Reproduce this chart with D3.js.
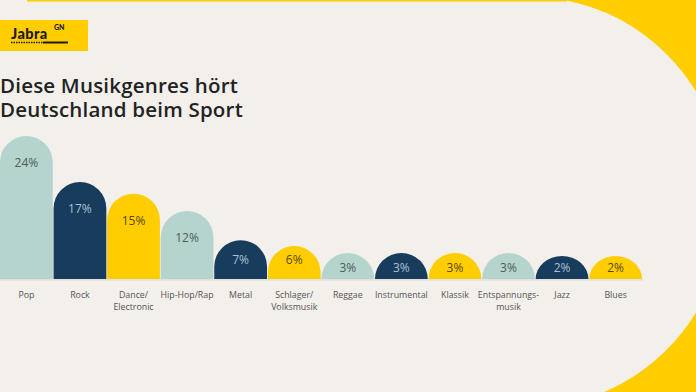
<!DOCTYPE html>
<html><head><meta charset="utf-8">
<script src="https://cdn.jsdelivr.net/npm/d3@7"></script>
<style>html,body{margin:0;padding:0;background:#f3efeb;}svg{display:block;}</style>
</head><body>
<svg id="c" width="696" height="392"></svg>
<script>
const categories = ["Pop","Rock","Dance/\nElectronic","Hip-Hop/Rap","Metal","Schlager/\nVolksmusik","Reggae","Instrumental","Klassik","Entspannungs-\nmusik","Jazz","Blues"];
const values = [24,17,15,12,7,6,3,3,3,3,2,2];
const valueLabels = ["24%","17%","15%","12%","7%","6%","3%","3%","3%","3%","2%","2%"];
const colorGroup = ["teal","navy","yellow","teal","navy","yellow","teal","navy","yellow","teal","navy","yellow"];
const titleLines = ["Diese Musikgenres hört","Deutschland beim Sport"];

const W = 696, H = 392;
const CREAM = "#f3efeb", YELLOW = "#ffcd00";
const fills = {teal:"#b4d4cd", navy:"#173c5c", yellow:"#ffcd00"};
const textFills = {teal:"#4d5d5a", navy:"#a9c1d6", yellow:"#5a4800"};

const svg = d3.select("#c");
// background
svg.append("rect").attr("width",W).attr("height",H).attr("fill",YELLOW);
svg.append("rect").attr("x",0).attr("y",0).attr("width",530).attr("height",H).attr("fill",CREAM);
svg.append("ellipse").attr("cx",530).attr("cy",202).attr("rx",197).attr("ry",205).attr("fill",CREAM);
svg.append("rect").attr("x",0).attr("y",0).attr("width",27).attr("height",1.5).attr("fill",CREAM);
svg.append("rect").attr("x",27).attr("y",0).attr("width",540).attr("height",1.5).attr("fill",YELLOW);

// logo
svg.append("rect").attr("x",0).attr("y",20).attr("width",88).attr("height",31).attr("fill",YELLOW);
svg.append("text").attr("x",11).attr("y",38.5).attr("font-family","Lato, sans-serif").attr("font-weight",900)
  .attr("font-size",14.5).attr("letter-spacing",0.4).attr("fill","#1a1a1a").text("Jabra");
svg.append("text").attr("x",54).attr("y",30).attr("font-family","Lato, sans-serif").attr("font-weight",900)
  .attr("font-size",7).attr("fill","#1a1a1a").text("GN");
svg.append("line").attr("x1",11).attr("x2",43).attr("y1",42.5).attr("y2",42.5).attr("stroke","#1a1a1a")
  .attr("stroke-width",1.5).attr("stroke-dasharray","1.5,1");
svg.append("line").attr("x1",43).attr("x2",68).attr("y1",42.5).attr("y2",42.5).attr("stroke","#1a1a1a").attr("stroke-width",2);

// title
svg.append("g").selectAll("text").data(titleLines).join("text")
  .attr("font-family","'Open Sans', sans-serif").attr("font-weight",600).attr("font-size",20.5)
  .attr("letter-spacing",0.2).attr("fill","#222")
  .attr("x",0).attr("y",(d,i)=>92.5+i*24.2).text(d=>d);

// chart
const base = 279;
const x = d3.scaleBand().domain(categories).range([0,642]).paddingInner(0.015);
const hScale = d3.scaleLinear().domain([0,2,3,6,17,24]).range([0,23,26,33,97,143]);
const r = x.bandwidth()/2;

svg.append("line").attr("x1",0).attr("x2",643).attr("y1",base+0.8).attr("y2",base+0.8)
  .attr("stroke","#e0dbd5").attr("stroke-width",1.2);

function barPath(x0,w,h){
  const ry = Math.min(w/2,h);
  const sh = h-ry;
  return `M${x0},${base} L${x0},${base-sh} A${w/2},${ry} 0 0 1 ${x0+w},${base-sh} L${x0+w},${base} Z`;
}
const g = svg.append("g");
g.selectAll("path").data(values).join("path")
  .attr("d",(v,i)=>barPath(x(categories[i]),x.bandwidth(),hScale(v)))
  .attr("fill",(v,i)=>fills[colorGroup[i]]);

g.selectAll("text.val").data(values).join("text").attr("class","val")
  .attr("x",(v,i)=>x(categories[i])+x.bandwidth()/2)
  .attr("y",(v,i)=>{const h=hScale(v); const top=base-h; return (h>r? Math.min(top+27, base-19) : base-11);})
  .attr("dy","0.35em").attr("text-anchor","middle")
  .attr("font-family","'Open Sans', sans-serif").attr("font-size",12)
  .attr("fill",(v,i)=>textFills[colorGroup[i]]).text((v,i)=>valueLabels[i]);

const cat = svg.append("g").attr("font-family","'Open Sans', sans-serif").attr("font-size",8.8).attr("fill","#555");
cat.selectAll("text").data(categories).join("text")
  .attr("text-anchor","middle")
  .each(function(d){
    const t = d3.select(this);
    d.split("\n").forEach((ln,j)=>{
      t.append("tspan").attr("x",x(d)+x.bandwidth()/2).attr("y",298+j*12).text(ln);
    });
  });
</script>
</body></html>
